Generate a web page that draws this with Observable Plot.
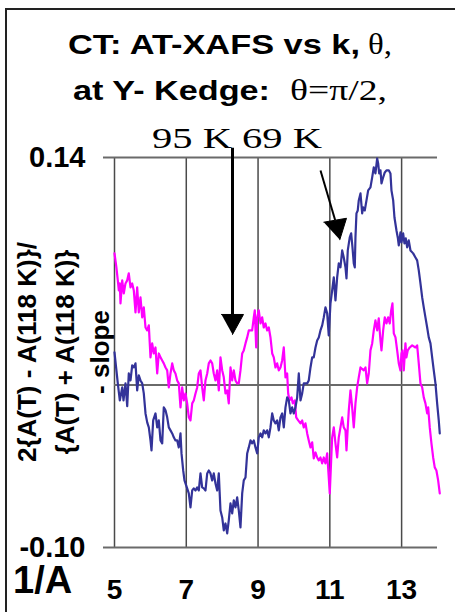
<!DOCTYPE html>
<html>
<head>
<meta charset="utf-8">
<script src="https://cdn.jsdelivr.net/npm/d3@7"></script>
<script src="https://cdn.jsdelivr.net/npm/@observablehq/plot@0.6"></script>
<style>
  html, body { margin: 0; padding: 0; background: #fff; }
  #chart { position: relative; width: 455px; height: 612px; overflow: hidden; background: #fff; }
  #chart svg { display: block; }
</style>
</head>
<body>
<div id="chart"></div>
<script>
// Photoelectron wavenumber k (1/A) and relative difference signal, 95 K (navy)
const navyK = [5.000,5.092,5.148,5.215,5.251,5.306,5.354,5.398,5.446,5.493,5.538,5.585,5.632,5.677,5.724,5.772,5.816,5.864,5.911,5.956,
  6.003,6.031,6.078,6.142,6.190,6.234,6.282,6.329,6.373,6.421,6.468,6.513,6.560,6.608,6.652,6.699,6.747,6.791,6.839,6.867,6.914,6.950,
  7.025,7.070,7.117,7.165,7.209,7.257,7.304,7.349,7.396,7.443,7.488,7.535,7.583,7.627,7.675,7.722,7.766,7.814,7.861,7.906,7.953,
  8.001,8.045,8.092,8.140,8.184,8.232,8.279,8.324,8.371,8.418,8.463,8.510,8.558,8.602,8.650,8.697,8.742,8.789,8.836,8.881,8.928,8.976,
  9.020,9.068,9.115,9.159,9.207,9.254,9.299,9.346,9.394,9.438,9.485,9.533,9.577,9.625,9.672,9.717,9.764,9.811,9.856,9.903,9.951,9.995,
  10.043,10.090,10.135,10.182,10.229,10.274,10.321,10.369,10.413,10.461,10.508,10.552,10.600,10.647,10.692,10.739,10.787,10.831,10.878,10.926,10.970,
  11.018,11.065,11.110,11.157,11.204,11.249,11.296,11.344,11.388,11.436,11.464,11.500,11.555,11.594,11.631,11.667,11.695,11.714,11.742,11.778,11.806,11.854,11.901,11.929,11.973,
  12.021,12.068,12.132,12.180,12.224,12.271,12.319,12.347,12.375,12.411,12.439,12.486,12.531,12.578,12.642,12.689,12.717,12.765,12.801,12.857,12.893,12.921,12.968,12.996,
  13.043,13.079,13.116,13.155,13.199,13.247,13.322,13.386,13.433,13.478,13.525,13.573,13.617,13.664,13.712,13.756,13.804,13.851,13.896,13.943,13.990,
  14.035,14.063];
const navyV = [0.0201,0.0010,-0.0095,-0.0015,-0.0095,0.0010,-0.0130,0.0071,0.0028,0.0121,0.0108,0.0133,-0.0033,0.0059,0.0028,0.0010,-0.0052,-0.0175,-0.0230,-0.0261,
  -0.0341,-0.0402,-0.0218,-0.0175,-0.0261,-0.0218,-0.0341,-0.0359,-0.0138,-0.0156,-0.0199,-0.0261,-0.0279,-0.0298,-0.0322,-0.0341,-0.0341,-0.0384,-0.0298,-0.0421,-0.0526,-0.0587,
  -0.0636,-0.0667,-0.0753,-0.0649,-0.0636,-0.0649,-0.0630,-0.0649,-0.0544,-0.0630,-0.0636,-0.0649,-0.0544,-0.0526,-0.0544,-0.0587,-0.0544,-0.0606,-0.0649,-0.0544,-0.0772,
  -0.0815,-0.0895,-0.0852,-0.0913,-0.0833,-0.0729,-0.0790,-0.0710,-0.0753,-0.0692,-0.0772,-0.0876,-0.0667,-0.0587,-0.0569,-0.0421,-0.0384,-0.0341,-0.0359,-0.0341,-0.0384,-0.0421,
  -0.0322,-0.0298,-0.0322,-0.0279,-0.0298,-0.0279,-0.0322,-0.0261,-0.0175,-0.0218,-0.0236,-0.0218,-0.0279,-0.0199,-0.0175,-0.0261,-0.0138,-0.0076,-0.0095,-0.0175,-0.0138,-0.0175,
  -0.0138,-0.0076,0.0071,-0.0095,-0.0052,0.0010,0.0010,0.0010,0.0028,0.0108,0.0170,0.0170,0.0231,0.0274,0.0293,0.0336,0.0367,0.0416,0.0478,0.0441,0.0305,
  0.0502,0.0582,0.0662,0.0521,0.0662,0.0748,0.0724,0.0828,0.0785,0.0724,0.0656,0.0828,0.0908,0.0933,0.0847,0.0748,0.0724,0.0908,0.1056,0.1074,0.1136,0.1179,0.1056,0.1093,0.1074,
  0.1136,0.1198,0.1216,0.1278,0.1339,0.1302,0.1394,0.1364,0.1302,0.1321,0.1241,0.1278,0.1308,0.1321,0.1321,0.1302,0.1198,0.1136,0.1031,0.0951,0.0908,0.0859,0.0939,0.0878,
  0.0933,0.0871,0.0902,0.0847,0.0890,0.0828,0.0810,0.0785,0.0767,0.0705,0.0625,0.0539,0.0478,0.0416,0.0354,0.0293,0.0256,0.0170,0.0090,0.0010,-0.0113,
  -0.0218,-0.0298];

// Same quantity at 69 K (magenta)
const magK = [5.000,5.053,5.092,5.120,5.148,5.167,5.215,5.259,5.306,5.354,5.398,5.446,5.493,5.538,5.585,5.632,5.677,5.724,5.772,5.816,5.864,5.911,5.956,
  6.003,6.050,6.095,6.142,6.190,6.234,6.282,6.329,6.373,6.421,6.468,6.513,6.560,6.608,6.652,6.699,6.747,6.791,6.839,6.886,6.931,6.978,
  7.025,7.070,7.117,7.165,7.209,7.257,7.304,7.349,7.396,7.443,7.488,7.535,7.583,7.627,7.675,7.722,7.766,7.814,7.861,7.906,7.953,
  8.001,8.045,8.092,8.140,8.184,8.232,8.279,8.324,8.371,8.418,8.463,8.510,8.558,8.602,8.650,8.697,8.742,8.789,8.836,8.881,8.909,8.948,8.976,
  9.020,9.068,9.115,9.159,9.207,9.254,9.299,9.346,9.394,9.438,9.485,9.533,9.577,9.625,9.672,9.717,9.764,9.811,9.839,9.876,9.931,9.968,
  10.024,10.063,10.119,10.182,10.229,10.274,10.321,10.369,10.413,10.461,10.508,10.552,10.600,10.647,10.692,10.739,10.787,10.831,10.878,10.926,10.970,10.998,
  11.037,11.065,11.110,11.157,11.204,11.249,11.296,11.344,11.388,11.436,11.464,11.500,11.528,11.575,11.622,11.667,11.714,11.761,11.806,11.854,11.946,11.993,
  12.040,12.085,12.132,12.180,12.224,12.271,12.319,12.363,12.411,12.439,12.486,12.531,12.578,12.625,12.670,12.709,12.745,12.782,12.829,12.876,12.921,12.968,12.996,
  13.024,13.060,13.107,13.134,13.171,13.227,13.294,13.386,13.433,13.478,13.525,13.573,13.617,13.664,13.712,13.740,13.784,13.831,13.879,13.923,13.970,
  14.018,14.063];
const magV = [0.0810,0.0724,0.0644,0.0582,0.0625,0.0502,0.0644,0.0564,0.0625,0.0644,0.0687,0.0601,0.0625,0.0582,0.0447,0.0601,0.0447,0.0539,0.0416,0.0478,0.0354,0.0336,0.0367,
  0.0170,0.0256,0.0194,0.0231,0.0071,0.0194,0.0170,0.0151,0.0133,0.0108,0.0090,-0.0015,0.0071,0.0133,0.0090,0.0071,0.0028,0.0010,-0.0138,-0.0015,-0.0095,-0.0052,
  -0.0113,-0.0199,-0.0218,-0.0113,-0.0095,-0.0052,-0.0015,0.0071,0.0090,-0.0015,-0.0095,0.0028,0.0071,0.0133,0.0151,0.0133,0.0071,0.0028,0.0090,-0.0033,0.0170,
  0.0090,0.0047,-0.0052,-0.0033,-0.0113,0.0108,0.0028,0.0090,0.0028,0.0010,0.0010,0.0090,0.0194,0.0213,0.0256,0.0293,0.0336,0.0336,0.0336,0.0416,0.0459,0.0231,0.0416,
  0.0459,0.0379,0.0416,0.0354,0.0379,0.0336,0.0354,0.0293,0.0194,0.0170,0.0108,0.0133,0.0090,0.0108,0.0151,0.0231,0.0047,0.0071,-0.0052,-0.0095,-0.0076,-0.0113,
  -0.0095,-0.0199,-0.0218,-0.0236,-0.0218,-0.0261,-0.0236,-0.0298,-0.0341,-0.0384,-0.0353,-0.0452,-0.0415,-0.0446,-0.0464,-0.0446,-0.0482,-0.0446,-0.0482,-0.0421,-0.0569,-0.0667,
  -0.0464,-0.0322,-0.0261,-0.0359,-0.0446,-0.0322,-0.0261,-0.0199,-0.0261,-0.0279,-0.0402,-0.0261,-0.0156,-0.0033,-0.0138,-0.0261,-0.0113,-0.0015,0.0047,0.0108,0.0090,0.0108,
  0.0010,0.0071,0.0213,0.0256,0.0336,0.0398,0.0336,0.0410,0.0274,0.0213,0.0336,0.0416,0.0379,0.0416,0.0379,0.0459,0.0502,0.0318,0.0293,0.0213,0.0133,0.0090,0.0194,
  0.0213,0.0090,0.0256,0.0170,0.0213,0.0231,0.0244,0.0231,0.0244,0.0133,0.0010,-0.0015,-0.0076,-0.0113,-0.0175,-0.0138,-0.0261,-0.0359,-0.0446,-0.0507,-0.0526,
  -0.0587,-0.0667];

// Axis ticks and grid
const xTicks = [5, 7, 9, 11, 13];
const yTicks = [0.14, -0.10];
const yGrid = [0.14, 0, -0.10];

// Arrow annotations pointing at the two curves (shaft ends and filled heads, in k / signal units)
const shaftDown = [{x1: 8.288, y1: 0.146, x2: 8.288, y2: 0.0434}];
const shaftSlant = [{x1: 10.74, y1: 0.132, x2: 11.149, y2: 0.1014}];
const heads = [
  {id: "down", k: 7.981, v: 0.0434}, {id: "down", k: 8.594, v: 0.0434}, {id: "down", k: 8.288, v: 0.0311},
  {id: "slant", k: 10.832, v: 0.1002}, {id: "slant", k: 11.464, v: 0.1026}, {id: "slant", k: 11.278, v: 0.0894}
];

const navy = navyK.map((k, i) => ({k, v: navyV[i]}));
const magenta = magK.map((k, i) => ({k, v: magV[i]}));

const sans = "'Liberation Sans', Arial, Helvetica, sans-serif";
const serif = "'Liberation Serif', 'Times New Roman', Times, serif";

const chart = Plot.plot({
  width: 455,
  height: 612,
  marginLeft: 114,
  marginRight: 18,
  marginTop: 157,
  marginBottom: 65,
  style: {fontFamily: sans, fontWeight: "bold", fontSize: "28px", color: "#000", background: "#fff", overflow: "visible"},
  x: {domain: [5, 14]},
  y: {domain: [-0.10, 0.14]},
  marks: [
    Plot.ruleX(xTicks, {stroke: "#4a4a4a", strokeWidth: 1.5}),
    Plot.ruleY(yGrid, {stroke: "#6a6a6a", strokeWidth: 2}),
    Plot.axisY(yTicks, {tickSize: 11, tickPadding: 18, tickFormat: d => d.toFixed(2), stroke: "#6a6a6a", strokeWidth: 2, label: null, fontSize: 29}),
    Plot.axisX(xTicks, {tickSize: 0, tickPadding: 32, label: null, fontSize: 28}),
    Plot.line(magenta, {x: "k", y: "v", stroke: "#ff00ff", strokeWidth: 2.2}),
    Plot.line(navy, {x: "k", y: "v", stroke: "#333399", strokeWidth: 2.2}),
    Plot.link(shaftDown, {x1: "x1", y1: "y1", x2: "x2", y2: "y2", stroke: "#000", strokeWidth: 3}),
    Plot.link(shaftSlant, {x1: "x1", y1: "y1", x2: "x2", y2: "y2", stroke: "#000", strokeWidth: 2}),
    Plot.line(heads, {x: "k", y: "v", z: "id", fill: "#000", stroke: "#000", strokeWidth: 1})
  ]
});

document.getElementById("chart").appendChild(chart);

// Titles, axis captions and the slide frame
const svg = d3.select(chart);
const deco = svg.append("g").attr("fill", "#000").attr("text-anchor", "start");

svg.insert("path", ":first-child")
  .attr("d", "M6,620V9H470")
  .attr("fill", "none")
  .attr("stroke", "#222")
  .attr("stroke-width", 2);

// one run of title text, stretched to the given width
function run(x, y, text, size, width, isSerif) {
  deco.append("text")
    .attr("x", x).attr("y", y)
    .attr("font-family", isSerif ? serif : sans)
    .attr("font-weight", isSerif ? "normal" : "bold")
    .attr("font-size", size)
    .attr("textLength", width)
    .attr("lengthAdjust", "spacingAndGlyphs")
    .text(text);
}

run(68, 54, "CT: AT-XAFS vs k,", 28, 292, false);
run(368, 54, "θ,", 30, 24, true);
run(73, 100, "at Y- Kedge:", 28, 197, false);
run(290, 100, "θ=π/2,", 30, 97, true);
run(152, 148, "95 K 69 K", 30, 170, true);

function sideLabel(x, text) {
  deco.append("text")
    .attr("transform", `translate(${x},352) rotate(-90)`)
    .attr("text-anchor", "middle")
    .attr("font-family", sans)
    .attr("font-weight", "bold")
    .attr("font-size", 26)
    .style("white-space", "pre")
    .text(text);
}
sideLabel(36, "2{A(T) - A(118 K)}/");
sideLabel(74, "{A(T) + A(118 K)}");
sideLabel(109, "- slope");

deco.append("text")
  .attr("x", 13).attr("y", 593)
  .attr("font-family", sans)
  .attr("font-weight", "bold")
  .attr("font-size", 38)
  .text("1/A");
</script>
</body>
</html>
